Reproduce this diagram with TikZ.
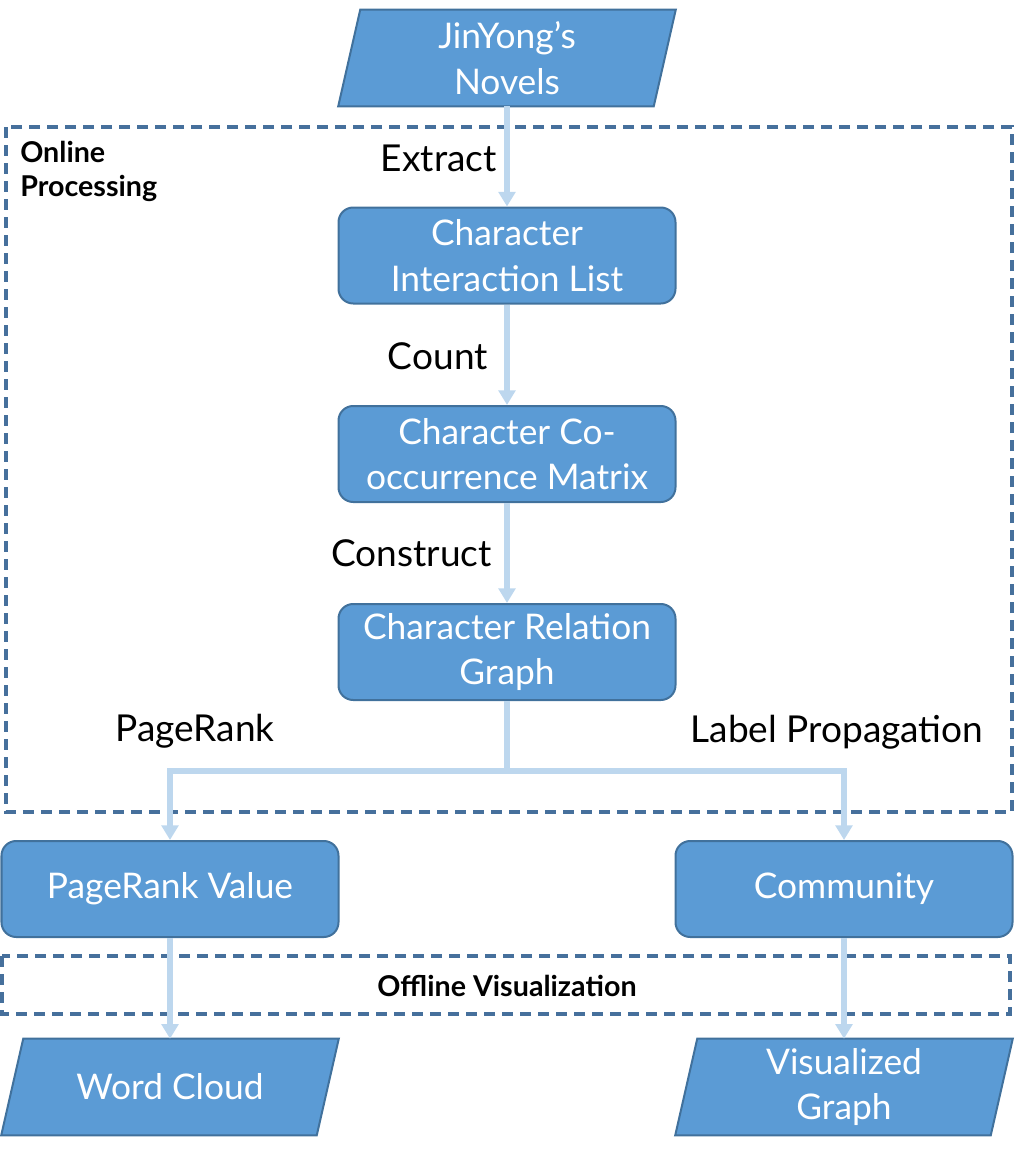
\documentclass[tikz,border=0pt]{standalone}
\usepackage{fontspec}
\setmainfont{Lato}
\usetikzlibrary{arrows.meta,calc,backgrounds}
\definecolor{boxfill}{HTML}{5B9BD5}
\definecolor{boxline}{HTML}{41719C}
\definecolor{dashline}{HTML}{46709C}
\definecolor{arrowc}{HTML}{BDD7EE}
\tikzset{
  boxtext/.style={text=white,font=\fontsize{26.5}{34}\selectfont,align=center},
  rbox/.style={boxtext,draw=boxline,fill=boxfill,line width=1.5pt,rectangle,rounded corners=11pt,
    minimum width=252.75pt,minimum height=72pt,inner sep=0pt},
  para/.style={boxtext,rectangle,minimum width=252.75pt,minimum height=72pt,inner sep=0pt},
  parashape/.style={draw=boxline,fill=boxfill,line width=1.5pt},
  lbl/.style={text=black,font=\fontsize{27.8}{34}\selectfont,inner sep=0pt},
  grouplbl/.style={text=black,font=\fontsize{21.5}{25.5}\selectfont\bfseries,inner sep=0pt},
  dashbox/.style={draw=dashline,line width=2.4pt,dash pattern=on 8.5pt off 5pt},
  arr/.style={draw=arrowc,line width=4pt,-{Triangle[width=12.5pt,length=11pt]}}
}
\newcommand{\paraback}[1]{%
  \begin{scope}[on background layer]
  \path[parashape] (#1.south west) -- ($(#1.north west)+(22,0)$) -- (#1.north east)
     -- ($(#1.south east)+(-22,0)$) -- cycle;
  \end{scope}}
\begin{document}
\begin{tikzpicture}[x=0.75pt,y=-0.75pt]
\useasboundingbox (0,0) rectangle (1014,1156);
% group frames
\draw[dashbox] (6,127) rectangle (1012,812);
\draw[dashbox] (2,956) rectangle (1010,1014);
% nodes
\node[para] (novels) at (507,58) {JinYong’s\\Novels};
\node[rbox] (cil) at (507,255.5) {Character\\Interaction List};
\node[rbox] (ccm) at (507,454) {Character Co-\\occurrence Matrix};
\node[rbox] (crg) at (507,652) {Character Relation\\Graph};
\node[rbox] (prv) at (170,889) {PageRank Value};
\node[rbox] (com) at (844,889) {Community};
\node[para] (wc) at (170,1087) {Word Cloud};
\node[para] (vg) at (844,1087) {Visualized\\Graph};
\paraback{novels}
\paraback{wc}
\paraback{vg}
% labels
\node[grouplbl,anchor=west,align=left] (online) at (20,171) {Online\\Processing};
\node[grouplbl] (offline) at (507,986) {Offline Visualization};
\node[lbl,anchor=east] (extract) at (497,158) {Extract};
\node[lbl,anchor=east] (count) at (488,356) {Count};
\node[lbl,anchor=east] (construct) at (492,553) {Construct};
\node[lbl] (pagerank) at (195,731) {PageRank};
\node[lbl] (labelprop) at (837,732) {Label Propagation};
% connectors
\coordinate (br) at (507,771);
\draw[arr] (novels.south) -- (cil.north);
\draw[arr] (cil.south) -- (ccm.north);
\draw[arr] (ccm.south) -- (crg.north);
\draw[arr] (crg.south) -- (br) -| (prv.north);
\draw[arr] (br) -| (com.north);
\draw[arr] (prv.south) -- (wc.north);
\draw[arr] (com.south) -- (vg.north);
\end{tikzpicture}
\end{document}
